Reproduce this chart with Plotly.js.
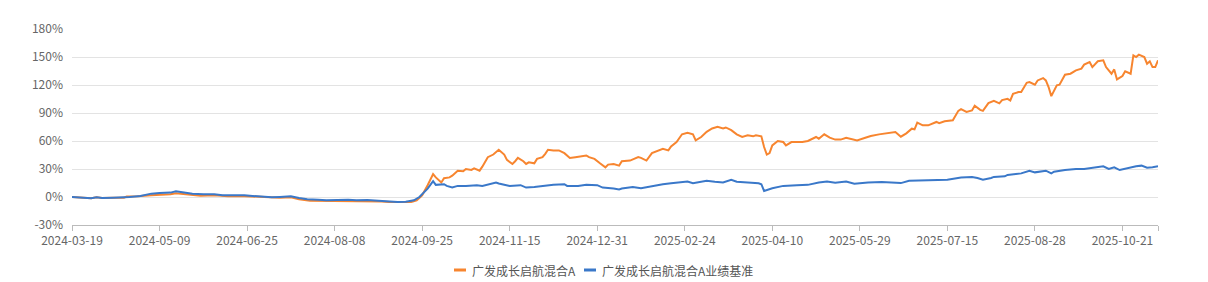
<!DOCTYPE html>
<html>
<head>
<meta charset="utf-8">
<script src="https://cdn.plot.ly/plotly-3.0.1.min.js"></script>
<style>
  html, body { margin: 0; padding: 0; background: #fff; }
  #chart { width: 1208px; height: 282px; }
</style>
</head>
<body>
<div id="chart"></div>
<script>
// Series names
const seriesNames = ['广发成长启航混合A', '广发成长启航混合A业绩基准'];

// x-axis tick labels (every 32 trading days, starting at day 0)
const dateLabels = ['2024-03-19','2024-05-09','2024-06-25','2024-08-08','2024-09-25','2024-11-15',
  '2024-12-31','2025-02-24','2025-04-10','2025-05-29','2025-07-15','2025-08-28','2025-10-21'];
const labelStep = 32;      // trading days between labels
const lastDay = 397;       // last trading-day index on the axis

// y-axis tick values (%) and labels
const yTickVals = [-30, 0, 30, 60, 90, 120, 150, 180];
const yTickText = ['-30%', '0%', '30%', '60%', '90%', '120%', '150%', '180%'];

// Fund cumulative return (%), sampled at trading-day index
const fundDay = [0,3,7,9,11,15,19,20,24,29,32,36,38,42,47,52,57,61,66,71,76,80,83,87,91,94,98,102,105,109,113,116,120,124,126,128,130,132,133,135,136,138,139,141,143,144,146,147,149,150,152,154,156,158,159,161,162,163,165,166,167,169,170,172,173,174,176,178,180,182,184,186,188,189,191,193,195,196,198,200,201,204,207,208,210,212,214,216,218,219,221,223,225,227,228,230,232,234,236,238,239,241,243,245,247,249,250,252,253,254,255,256,258,260,261,263,267,269,272,273,275,277,279,281,283,286,287,290,292,295,297,299,301,303,305,307,308,309,311,313,316,317,319,322,324,325,327,329,330,332,333,335,337,339,340,342,343,344,346,347,349,350,352,353,355,356,357,358,359,360,361,363,365,367,369,370,372,373,375,377,378,380,381,382,384,385,387,388,389,390,392,393,394,395,396,397];
const fundPct = [0,-0.7,-1.4,-0.4,-1.1,-0.7,-0.7,0.5,0.7,1.8,2.2,2.9,4.0,2.5,1.4,1.8,0.7,1.1,0.4,-0.4,-0.7,-0.4,-2.5,-4.0,-4.0,-4.7,-4.3,-4.3,-4.7,-4.0,-4.7,-5.4,-5.8,-5.4,-3.6,1.8,12.6,24.6,21.0,15.5,20.2,21.0,22.8,28.2,27.5,30.0,29.0,30.7,28.2,32.5,42.7,45.5,50.6,45.5,39.8,35.4,38.3,41.9,38.3,35.4,37.2,36.1,40.8,42.7,46.3,50.6,49.9,49.9,47.0,41.9,42.7,43.4,44.5,42.7,40.8,36.1,31.8,34.7,35.4,33.6,38.3,39.0,42.7,41.9,39.0,47.0,49.2,51.7,49.9,54.2,58.9,67.2,68.7,67.2,60.7,64.3,69.8,73.4,75.2,73.4,74.5,71.6,67.2,64.3,66.1,65.0,66.1,65.0,53.5,45.5,47.0,55.3,60.0,58.9,55.3,58.9,58.9,60.0,64.3,62.5,67.2,63.6,61.5,61.5,63.5,61.7,60.6,63.5,65.3,67.1,68.2,68.9,69.6,64.6,68.2,73.2,72.5,79.7,76.8,76.8,80.4,79.0,81.1,82.2,92.3,94.1,91.2,92.7,97.7,93.4,92.3,100.6,103.0,100.3,103.8,105.2,103.4,110.6,112.4,112.4,122.4,123.1,120.3,124.9,127.4,124.9,117.8,108.1,114.2,119.6,120.3,131.0,132.1,135.7,137.5,141.8,144.6,139.2,145.4,146.4,139.2,132.1,136.7,126.0,129.6,134.6,132.1,151.8,150.0,152.5,150.0,142.8,145.4,139.2,139.2,146.4];

// Benchmark cumulative return (%), sampled at trading-day index
const benchDay = [0,3,7,9,11,15,19,21,25,29,32,36,38,41,44,48,52,55,59,63,66,70,73,76,80,83,86,90,93,97,101,104,108,112,115,119,122,125,127,130,132,133,136,137,139,141,144,148,150,153,155,156,160,164,166,169,172,176,180,181,185,188,192,194,198,200,201,205,208,212,216,219,223,225,227,229,232,235,238,241,243,247,251,252,253,256,260,265,269,273,276,279,283,286,291,296,301,303,306,311,316,320,325,329,331,333,336,337,341,342,347,350,352,356,358,359,363,367,370,374,377,379,381,383,386,389,391,393,395,397];
const benchPct = [0,-0.7,-1.4,-0.4,-1.1,-0.7,-0.7,0,1.1,3.6,4.3,4.7,6.1,4.7,3.6,2.9,2.9,1.8,2.2,1.8,1.1,0.4,-0.4,0,0.7,-1.1,-2.5,-2.9,-3.6,-3.3,-2.9,-3.6,-3.3,-4.0,-4.7,-5.4,-5.1,-3.6,0,9.0,17.0,13.0,13.7,11.9,10.1,11.9,11.9,12.7,11.9,13.7,15.5,14.5,11.9,12.7,10.1,10.8,11.9,13.0,13.7,11.9,11.9,13.0,12.7,10.1,9.0,8.0,9.0,10.8,9.4,11.9,13.7,14.8,15.5,16.6,14.8,15.5,17.3,16.3,15.5,18.4,16.3,15.5,14.8,13.7,6.5,9.4,11.9,12.7,13.0,15.5,16.6,15.2,16.6,14.2,15.6,16.0,15.6,14.9,17.4,17.8,18.5,18.5,21.0,21.4,20.3,18.5,20.3,21.5,22.1,23.6,25.3,28.2,26.4,28.2,25.3,27.1,28.9,30.0,30.0,31.4,32.9,30.0,31.8,28.9,31.1,32.9,33.6,31.4,31.8,32.9];

const colors = ['#f7852f', '#3a78c9'];

const tickVals = dateLabels.map((_, i) => i * labelStep).concat([lastDay]);
const tickText = dateLabels.concat(['']);

const traces = [
  { x: fundDay, y: fundPct, name: seriesNames[0], type: 'scatter', mode: 'lines',
    line: { color: colors[0], width: 2 }, hoverinfo: 'skip' },
  { x: benchDay, y: benchPct, name: seriesNames[1], type: 'scatter', mode: 'lines',
    line: { color: colors[1], width: 2 }, hoverinfo: 'skip' }
];

// custom legend (short thick dashes like the reference)
const plotW = 1086, plotH = 196;
const px = v => (v - 72) / plotW;
const py = v => (225 - v) / plotH;
const legY = 270;
const shapes = [
  { type: 'line', xref: 'paper', yref: 'paper', x0: px(454), x1: px(466), y0: py(legY), y1: py(legY),
    line: { color: colors[0], width: 3 } },
  { type: 'line', xref: 'paper', yref: 'paper', x0: px(584), x1: px(596), y0: py(legY), y1: py(legY),
    line: { color: colors[1], width: 3 } }
];
const annotations = [
  { xref: 'paper', yref: 'paper', x: px(470), y: py(legY), xanchor: 'left', yanchor: 'middle',
    text: seriesNames[0], showarrow: false, font: { size: 12, color: '#555' } },
  { xref: 'paper', yref: 'paper', x: px(600), y: py(legY), xanchor: 'left', yanchor: 'middle',
    text: seriesNames[1], showarrow: false, font: { size: 12, color: '#555' } }
];

const layout = {
  width: 1208, height: 282,
  margin: { l: 72, r: 50, t: 29, b: 57, pad: 0 },
  paper_bgcolor: '#fff', plot_bgcolor: '#fff',
  font: { family: '"Noto Sans CJK SC", "Noto Sans", sans-serif', size: 12, color: '#666' },
  showlegend: false,
  xaxis: {
    range: [0, lastDay], tickmode: 'array', tickvals: tickVals, ticktext: tickText,
    showgrid: false, zeroline: false, showline: true, linecolor: '#bbb', linewidth: 1,
    ticks: 'outside', ticklen: 5, tickcolor: '#bbb', tickfont: { size: 12, color: '#666' },
    fixedrange: true
  },
  yaxis: {
    range: [-30, 180], tickmode: 'array', tickvals: yTickVals, ticktext: yTickText,
    showgrid: true, gridcolor: '#e3e3e3', gridwidth: 1,
    zeroline: false, showline: false, ticks: '', ticklabelstandoff: 8,
    tickfont: { size: 12, color: '#666' }, fixedrange: true
  },
  shapes: shapes,
  annotations: annotations
};

Plotly.newPlot('chart', traces, layout, { displayModeBar: false, staticPlot: true });
</script>
</body>
</html>
